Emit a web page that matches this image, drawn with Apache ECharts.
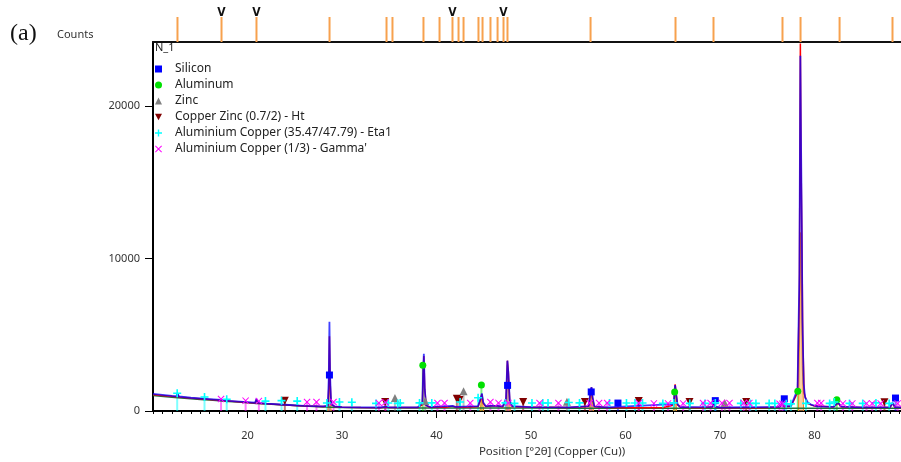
<!DOCTYPE html>
<html>
<head>
<meta charset="utf-8">
<script src="https://cdn.jsdelivr.net/npm/echarts@6/dist/echarts.min.js"></script>
<style>
  html, body { margin: 0; padding: 0; background: #fff; }
  #chart { width: 901px; height: 462px; }
</style>
</head>
<body>
<div id="chart"></div>
<script>
// ---- diffraction scan, N_1 sample (2θ in degrees, intensity in counts) ----
const xTickLabels = [20, 30, 40, 50, 60, 70, 80];
const yTickLabels = [0, 10000, 20000];

// observed intensity
const observedScan = [
  [10,1080],[11,1020],[12,960],[12.45,930],[12.6,1080],[12.75,920],[14,850],[16,760],[17.25,700],[17.4,750],[17.55,680],
  [18,660],[20,560],[20.8,520],[20.95,760],[21.1,510],[22,470],[24,400],[26,330],[28,290],[28.5,320],[28.6,1500],
  [28.67,4900],[28.75,1800],[28.85,420],[29.2,300],[30,250],[32,230],[34,220],[34.7,260],[35,230],[36,230],[38,230],
  [38.5,400],[38.6,2600],[38.66,3600],[38.75,1500],[38.9,350],[39.3,250],[40.3,260],[41,240],[41.7,320],[42,260],
  [43,250],[44.4,300],[44.65,700],[44.8,1100],[44.95,500],[45.2,300],[45.7,330],[46.4,320],[47,280],[47.35,600],
  [47.5,3300],[47.6,2600],[47.75,600],[48,300],[50,240],[52,240],[54,230],[56.1,300],[56.3,1200],[56.4,1550],
  [56.5,900],[56.7,280],[58,230],[60,220],[62,220],[64,230],[65.1,400],[65.25,1750],[65.35,1200],[65.5,400],
  [65.8,250],[68,220],[69.2,260],[69.35,560],[69.5,280],[70,220],[74,220],[76.3,260],[76.6,480],[76.8,300],
  [77.5,300],[78.2,1200],[78.4,8000],[78.5,24100],[78.58,16000],[78.66,11600],[78.75,5000],[78.9,1200],[79.2,500],
  [80,320],[82,260],[82.5,520],[82.8,280],[85,230],[88,240],[88.25,500],[88.5,250],[89.2,230]
];

// calculated profile
const calculatedScan = [
  [10,1120],[11,1060],[12,990],[12.45,960],[12.6,1150],[12.75,950],[14,870],[16,780],[17.25,720],[18,670],[20,580],
  [20.8,540],[20.95,800],[21.1,530],[22,480],[24,410],[26,340],[28,300],[28.5,330],[28.6,2200],[28.67,5850],
  [28.74,2300],[28.85,450],[29.2,310],[30,260],[34,230],[34.7,280],[35,240],[38,240],[38.5,500],[38.6,2900],
  [38.66,3750],[38.76,1400],[38.9,380],[39.3,260],[41.7,330],[42,270],[44.4,320],[44.65,800],[44.8,1150],
  [44.95,550],[45.2,320],[45.7,340],[46.4,330],[47,300],[47.35,800],[47.5,3300],[47.6,2500],[47.75,700],[48,320],
  [50,250],[54,240],[56.1,320],[56.3,1300],[56.4,1560],[56.5,950],[56.7,300],[58,240],[65.1,450],[65.25,1700],
  [65.35,1100],[65.5,450],[65.8,260],[69.2,270],[69.35,600],[69.5,290],[70,230],[76.3,270],[76.6,520],[76.8,310],
  [77.5,320],[78.2,1400],[78.4,9000],[78.5,23300],[78.58,17000],[78.64,13000],[78.72,6000],[78.85,1800],[79,900],
  [79.3,550],[79.7,400],[80.3,300],[82,270],[82.5,560],[82.8,290],[85,240],[88,250],[88.25,540],[88.5,260],[89.2,240]
];

// background
const backgroundScan = [
  [10,1020],[12,900],[14,800],[16,720],[18,630],[20,540],[22,460],[24,390],[26,320],[28,270],[30,230],
  [34,210],[40,200],[50,190],[60,185],[70,180],[80,180],[89.2,180]
];

// fitted peak profiles
const peakProfiles = [
  [28.5,0],[28.6,1100],[28.67,4000],[28.75,1000],[28.85,0], null,
  [44.6,0],[44.8,850],[45.0,0], null,
  [47.35,0],[47.5,3000],[47.62,1800],[47.8,0], null,
  [56.2,0],[56.4,1150],[56.6,0], null,
  [65.1,0],[65.25,1500],[65.4,0], null,
  [78.3,0],[78.45,6000],[78.52,11700],[78.6,9000],[78.7,3000],[78.85,0]
];

// reference patterns: [2θ, marker height in counts]
const silicon = [[28.67,2360],[47.52,1680],[56.37,1250],[59.2,520],[69.5,680],[76.8,800],[88.57,850]];
const aluminum = [[38.55,3000],[44.75,1700],[65.2,1250],[78.23,1300],[82.36,740]];
const zinc = [[35.6,850],[38.8,650],[42.86,1300],[53.8,610],[70.5,520]];
const copperZinc = [[23.95,680],[34.57,590],[42.15,810],[42.43,720],[49.17,590],[55.7,590],[61.4,650],[66.77,590],[72.77,590],[87.4,570]];
const eta1 = [
  [12.56,1160],[15.45,920],[17.8,770],[21.9,650],[23.6,680],[25.26,650],[28.4,520],[29.73,590],[31.04,570],[33.6,500],
  [34.9,520],[35.9,500],[36.16,520],[38.2,530],[39.5,530],[42.5,590],[44.4,870],[47.3,530],[48.25,500],[50.1,520],
  [51.25,520],[51.8,520],[54.0,560],[55.13,530],[58.3,520],[60.1,520],[61.0,520],[61.8,520],[63.95,500],[65.1,530],
  [66.8,500],[68.4,500],[69.5,530],[72.2,500],[73.2,500],[73.8,500],[75.2,500],[75.8,500],[77.0,470],[77.5,470],
  [79.1,500],[81.6,500],[82.1,590],[83.7,500],[85.1,500],[86.5,530],[87.9,500]
];
const gammaPrime = [
  [17.2,790],[19.8,680],[21.2,650],[26.3,590],[27.3,590],[29.1,590],[33.9,520],[34.6,570],[40.1,520],[40.85,520],
  [43.57,520],[45.7,590],[46.56,530],[47.6,520],[50.9,520],[52.9,520],[56.2,520],[57.2,520],[58.06,520],[61.4,520],
  [63.0,500],[64.5,500],[66.1,500],[68.2,520],[69.0,520],[70.2,520],[71.0,520],[72.5,520],[73.1,520],[76.3,480],
  [76.6,480],[80.3,520],[80.7,520],[83.0,500],[84.0,500],[85.5,500],[86.1,500],[87.0,500],[88.8,500]
];

// peak list shown above the plot; flagged peaks carry a mark
const peakList = [12.59,17.25,20.95,28.68,34.71,35.34,38.62,40.32,41.69,42.33,42.86,44.44,44.87,45.71,46.46,47.09,47.51,56.30,65.29,69.31,76.61,78.52,82.65,88.25];
const flaggedPeaks = [17.25,20.95,41.69,47.09];

const FONT = '"Noto Sans", "Open Sans", sans-serif';
const X_MIN = 10, X_MAX = 89.15, Y_MAX = 24200;

const phases = [
  { name: 'Silicon', data: silicon, color: '#0000ff', symbol: 'rect', size: 7 },
  { name: 'Aluminum', data: aluminum, color: '#00e000', symbol: 'circle', size: 7 },
  { name: 'Zinc', data: zinc, color: '#808080', symbol: 'triangle', size: 8 },
  { name: 'Copper Zinc (0.7/2) - Ht', data: copperZinc, color: '#800000', symbol: 'path://M0,0L10,0L5,9Z', size: 8 },
  { name: 'Aluminium Copper (35.47/47.79) - Eta1', data: eta1, color: '#00ffff', symbol: 'path://M4,0h2v4h4v2h-4v4h-2v-4h-4v-2h4z', size: 8 },
  { name: "Aluminium Copper (1/3) - Gamma'", data: gammaPrime, color: '#ff00ff', symbol: 'path://M1,0L5,4L9,0L10,1L6,5L10,9L9,10L5,6L1,10L0,9L4,5L0,1Z', size: 7 }
];

function stickRenderer(color, width, opacity) {
  return function (params, api) {
    const x = api.value(0), v = api.value(1);
    const p0 = api.coord([x, 0]);
    const p1 = api.coord([x, v]);
    return {
      type: 'line',
      shape: { x1: p0[0], y1: p0[1], x2: p1[0], y2: p1[1] },
      style: { stroke: color, lineWidth: width, opacity: opacity }
    };
  };
}

const series = [];

// phase sticks under the markers
phases.forEach(function (ph) {
  series.push({
    name: ph.name + ' sticks', type: 'custom', xAxisIndex: 0, yAxisIndex: 0, z: 1,
    renderItem: stickRenderer(ph.color, 2, 0.5),
    data: ph.data, silent: true
  });
});

series.push({
  name: 'Peak profiles', type: 'line', xAxisIndex: 0, yAxisIndex: 0, z: 2,
  data: peakProfiles, showSymbol: false, connectNulls: false,
  lineStyle: { color: '#f08a24', width: 1 },
  areaStyle: { color: 'rgba(250,165,80,0.75)' }
});
series.push({
  name: 'Background', type: 'line', xAxisIndex: 0, yAxisIndex: 0, z: 3,
  data: backgroundScan, showSymbol: false, smooth: 0.3,
  lineStyle: { color: '#1f6e3c', width: 1.5 }
});
series.push({
  name: 'Observed', type: 'line', xAxisIndex: 0, yAxisIndex: 0, z: 4,
  data: observedScan, showSymbol: false,
  lineStyle: { color: '#ff0000', width: 1.5 }
});
series.push({
  name: 'Calculated', type: 'line', xAxisIndex: 0, yAxisIndex: 0, z: 5,
  data: calculatedScan, showSymbol: false,
  lineStyle: { color: '#0000ff', width: 1.8, opacity: 0.75 }
});

// phase markers
phases.forEach(function (ph) {
  series.push({
    name: ph.name, type: 'scatter', xAxisIndex: 0, yAxisIndex: 0, z: 6,
    data: ph.data, symbol: ph.symbol, symbolSize: ph.size,
    itemStyle: { color: ph.color, opacity: 1 }
  });
});

// peak list strip above the plot
series.push({
  name: 'Peak list', type: 'custom', xAxisIndex: 1, yAxisIndex: 1,
  renderItem: stickRenderer('#f7a14e', 2, 1),
  data: peakList.map(function (p) { return [p, 1]; }), silent: true
});
series.push({
  name: 'Peak flags', type: 'custom', xAxisIndex: 1, yAxisIndex: 1,
  renderItem: function (params, api) {
    const p = api.coord([api.value(0), 1]);
    return {
      type: 'text',
      style: { text: 'V', x: p[0], y: p[1] + 2, align: 'center', verticalAlign: 'bottom',
               font: 'bold 12px "DejaVu Sans Condensed", sans-serif', fill: '#111' }
    };
  },
  data: flaggedPeaks.map(function (p) { return [p, 1]; }), silent: true
});

const plainNumber = function (v) { return String(v); };

const chart = echarts.init(document.getElementById('chart'), null, { renderer: 'canvas' });
chart.setOption({
  animation: false,
  backgroundColor: '#ffffff',
  textStyle: { fontFamily: FONT },
  grid: [
    { left: 153, right: 0, top: 42, bottom: 51 },
    { left: 153, right: 0, top: 17, height: 25 }
  ],
  xAxis: [
    {
      type: 'value', gridIndex: 0, min: X_MIN, max: X_MAX, position: 'bottom',
      splitLine: { show: false },
      axisLine: { show: true, onZero: false, lineStyle: { color: '#000', width: 2 } },
      axisTick: { show: true, length: 7, customValues: xTickLabels, lineStyle: { color: '#000', width: 1 } },
      axisLabel: { customValues: xTickLabels, margin: 19, color: '#333', fontSize: 11, fontFamily: FONT, formatter: plainNumber }
    },
    {
      type: 'value', gridIndex: 1, min: X_MIN, max: X_MAX, position: 'bottom',
      splitLine: { show: false },
      axisLine: { show: true, lineStyle: { color: '#111', width: 2 } },
      axisTick: { show: false }, axisLabel: { show: false }
    },
    {
      type: 'value', gridIndex: 0, min: X_MIN, max: X_MAX, interval: 1, position: 'bottom',
      splitLine: { show: false },
      axisLine: { show: false },
      axisTick: { show: true, length: 3, lineStyle: { color: '#000', width: 1 } },
      axisLabel: { show: false }
    }
  ],
  yAxis: [
    {
      type: 'value', gridIndex: 0, min: 0, max: Y_MAX,
      splitLine: { show: false },
      axisLine: { show: true, onZero: false, lineStyle: { color: '#000', width: 2 } },
      axisTick: { show: true, length: 8, customValues: yTickLabels, lineStyle: { color: '#000', width: 1 } },
      axisLabel: { customValues: yTickLabels, margin: 13, color: '#333', fontSize: 11, fontFamily: FONT, formatter: plainNumber }
    },
    {
      type: 'value', gridIndex: 1, min: 0, max: 1, show: false
    }
  ],
  legend: {
    orient: 'vertical', left: 150, top: 57, padding: 5,
    itemWidth: 7, itemHeight: 7, itemGap: 2,
    textStyle: { fontSize: 12, lineHeight: 14, color: '#222', fontFamily: FONT, padding: [0, 0, 0, 8] },
    data: phases.map(function (ph) { return { name: ph.name, icon: ph.symbol }; })
  },
  graphic: [
    { type: 'text', left: 10, top: 22, style: { text: '(a)', font: '24px "Liberation Serif", serif', fill: '#111' } },
    { type: 'text', left: 57, top: 29, style: { text: 'Counts', font: '11px ' + FONT, fill: '#333' } },
    { type: 'text', left: 155, top: 42, style: { text: 'N_1', font: '11px ' + FONT, fill: '#222' } },
    { type: 'text', x: 552, y: 452, style: { text: 'Position [°2θ] (Copper (Cu))', font: '11.5px ' + FONT, fill: '#333', align: 'center', verticalAlign: 'middle' } }
  ],
  series: series
});
</script>
</body>
</html>
